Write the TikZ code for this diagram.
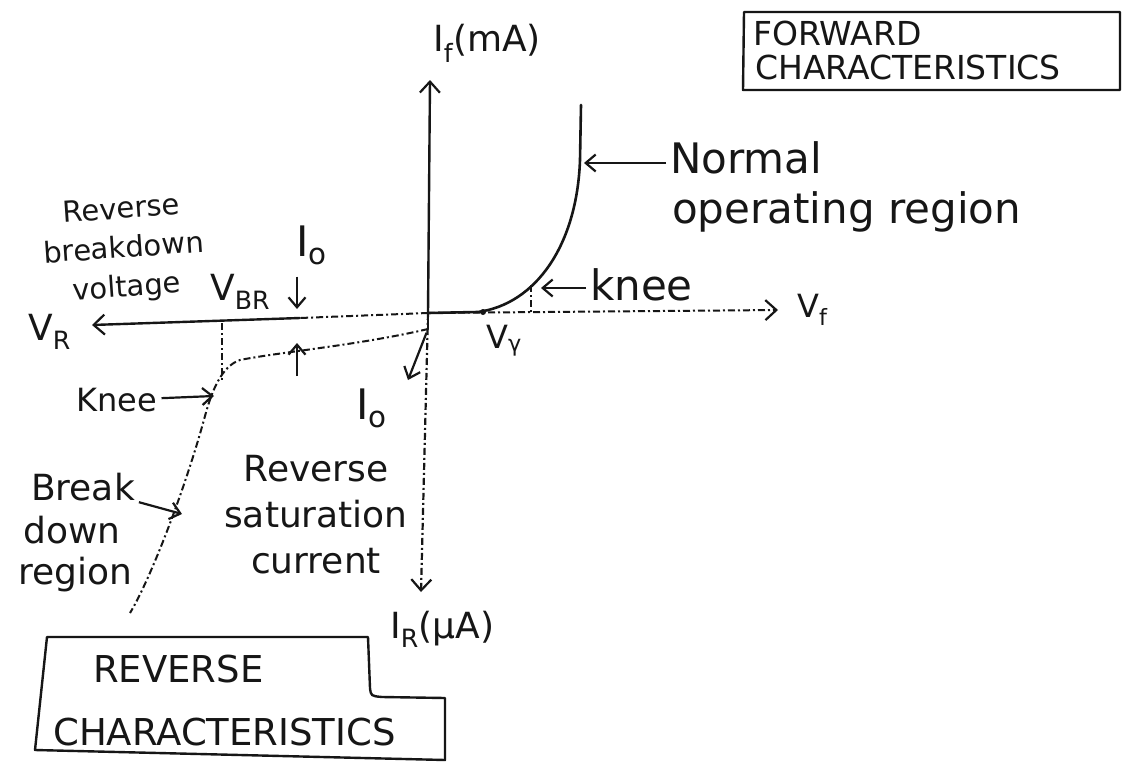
\documentclass[tikz,border=0pt]{standalone}
\usepackage{fontspec}
\setmainfont{DejaVu Sans}
\usetikzlibrary{positioning, arrows.meta}
\definecolor{inkBlack}{HTML}{161616}

\begin{document}
\begin{tikzpicture}[
    x=1pt, y=-1pt,
    every node/.style={text=inkBlack, inner sep=0pt},
    axisline/.style={line width=2.4pt, draw=inkBlack, line cap=round},
    dashline/.style={line width=2pt, draw=inkBlack, dash pattern=on 7pt off 3pt on 2pt off 3pt},
    curveline/.style={line width=2.6pt, draw=inkBlack, line cap=round},
    tipend/.style={-{Straight Barb[length=11pt, width=20pt, line width=2.2pt]}},
    pointer/.style={line width=2.2pt, draw=inkBlack, shorten <=4pt, -{Straight Barb[length=10pt, width=17pt, line width=2.2pt]}},
    boxline/.style={line width=2.4pt, draw=inkBlack, line join=round},
    bigLbl/.style={font=\fontsize{42}{48}\selectfont},
    midLbl/.style={font=\fontsize{36}{46}\selectfont},
    smallLbl/.style={font=\fontsize{32}{38}\selectfont},
    tinyLbl/.style={font=\fontsize{29}{39}\selectfont},
    boxLbl/.style={font=\fontsize{33}{40}\selectfont}
]
\useasboundingbox (0,0) rectangle (1132,768);
\fill[white] (0,0) rectangle (1132,768);

% axes
\coordinate (orig) at (428,313);
\coordinate (ifTip) at (430,80);
\coordinate (irTip) at (421,592);
\coordinate (vrTip) at (92,325);
\coordinate (vfTip) at (778,310);
\coordinate (midL) at (300,318);

\draw[axisline, tipend] (orig) -- (ifTip);
\draw[dashline, line width=2.2pt, tipend] (orig) -- (irTip);
\draw[dashline] (orig) -- (midL);
\draw[axisline, tipend] (midL) -- (vrTip);
\draw[dashline, tipend] (orig) -- (vfTip);

\node[midLbl, anchor=base west] (ifLbl) at (433,52) {I\textsubscript{f}(mA)};
\node[midLbl, anchor=base west] (irLbl) at (390,638) {I\textsubscript{R}(μA)};
\node[midLbl, anchor=base west] (vrLbl) at (28,340) {V\textsubscript{R}};
\node[smallLbl, anchor=base west] (vfLbl) at (797,317) {V\textsubscript{f}};

% forward characteristic
\draw[curveline] (orig) -- (478,312) .. controls (536,304) and (577,245) .. (580,160) -- (581,105);
\fill[inkBlack] (483,312) circle (3pt);
\node[smallLbl, anchor=base west] (vgLbl) at (486,348) {V\textsubscript{γ}};

\coordinate (fKneeTop) at (531,285);
\coordinate (fKneeBase) at (531,312);
\draw[dashline] (fKneeTop) -- (fKneeBase);
\node[bigLbl, anchor=base west] (fKnee) at (590,300) {knee};
\coordinate (fKneeHit) at (541,288);
\draw[pointer] (fKnee.west |- fKneeHit) -- (fKneeHit);

\node[bigLbl, anchor=base west] (normLbl) at (670,173) {Normal};
\node[bigLbl, anchor=base west] (operLbl) at (672,223) {operating region};
\coordinate (normHit) at (584,163);
\draw[pointer] (normLbl.west |- normHit) -- (normHit);

% forward box
\draw[boxline] (744,12) -- (1120,12) -- (1120,90) -- (743,90) -- cycle;
\node[boxLbl, anchor=base west] (fwdA) at (753,46) {FORWARD};
\node[boxLbl, anchor=base west] (fwdB) at (755,80) {CHARACTERISTICS};

% reverse characteristic
\coordinate (revStart) at (428,329);
\draw[curveline] (orig) -- (revStart);
\draw[dashline] (revStart) .. controls (360,345) and (280,352) .. (240,360)
    .. controls (222,366) and (212,390) .. (205,416)
    .. controls (185,490) and (150,580) .. (130,613);

\coordinate (rKneeTop) at (222,323);
\coordinate (rKneeBot) at (222,380);
\draw[dashline] (rKneeTop) -- (rKneeBot);

\node[tinyLbl, align=center, rotate=4] (rbvLbl) at (124,250) {Reverse\\breakdown\\voltage};
\node[midLbl, anchor=base west] (vbrLbl) at (210,300) {V\textsubscript{BR}};

\node[bigLbl] (ioTop) at (312,245) {I\textsubscript{o}};
\coordinate (ioTopHit) at (297,309);
\draw[pointer, shorten <=12pt] (ioTop.south -| ioTopHit) -- (ioTopHit);
\coordinate (ioUpTail) at (297,380);
\coordinate (ioUpHit) at (297,343);
\draw[pointer] (ioUpTail) -- (ioUpHit);

\node[bigLbl] (ioBot) at (372,408) {I\textsubscript{o}};
\coordinate (ioBotHit) at (408,380);
\draw[pointer] (revStart) -- (ioBotHit);

\node[smallLbl] (rKnee) at (117,400) {Knee};
\coordinate (rKneeHit) at (214,396);
\draw[pointer] (rKnee) -- (rKneeHit);

\node[midLbl] (breakA) at (83,487) {Break};
\node[midLbl] (breakB) at (72,530) {down};
\node[midLbl] (breakC) at (75,575) {region};
\coordinate (breakHit) at (182,514);
\draw[pointer] (breakA.south east) -- (breakHit);

\node[midLbl, align=center] (satLbl) at (316,515) {Reverse\\saturation\\current};

% reverse box
\draw[boxline] (47,637) -- (368,637) -- (370,688) .. controls (371,696) .. (382,697)
    -- (445,698) -- (445,760) -- (35,750) -- cycle;
\node[boxLbl, font=\fontsize{37}{44}\selectfont, anchor=base west] (revA) at (93,682) {REVERSE};
\node[boxLbl, font=\fontsize{37}{44}\selectfont, anchor=base west] (revB) at (53,745) {CHARACTERISTICS};

\end{tikzpicture}
\end{document}
